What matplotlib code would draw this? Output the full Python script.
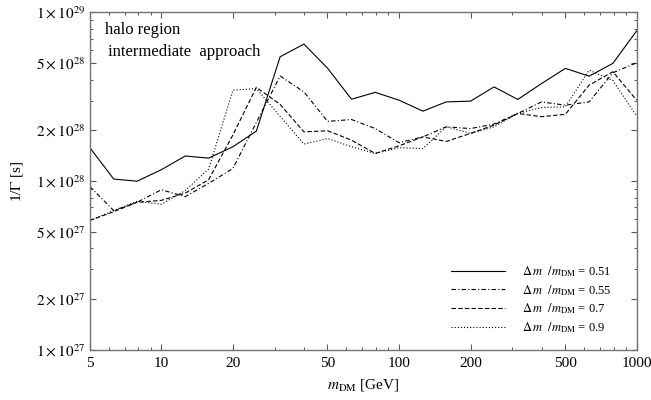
import numpy as np
import matplotlib.pyplot as plt
from matplotlib.ticker import FixedLocator, NullFormatter

plt.rcParams['font.family'] = ['Liberation Serif', 'DejaVu Serif']
plt.rcParams['mathtext.fontset'] = 'stix'

# masses (GeV)
m_dm = [5, 6.3, 7.9, 10, 12.6, 15.8, 20, 25.1, 31.6, 39.8, 50.1, 63.1,
        79.4, 100, 126, 158, 200, 251, 316, 398, 501, 631, 794, 1000]

# 1/Gamma in units of 1e28 s
tau_051 = [1.58, 1.03, 1.0, 1.17, 1.41, 1.37, 1.6, 1.98, 5.46, 6.49, 4.66, 3.06,
           3.36, 3.02, 2.6, 2.95, 2.98, 3.62, 3.05, 3.79, 4.66, 4.19, 4.99, 7.78]
tau_055 = [0.93, 0.67, 0.75, 0.89, 0.81, 0.97, 1.19, 2.23, 4.2, 3.38, 2.26, 2.32,
           2.05, 1.69, 1.83, 2.1, 2.05, 2.18, 2.52, 2.95, 2.82, 2.95, 4.39, 5.03]
tau_07 = [0.585, 0.66, 0.75, 0.77, 0.85, 1.02, 1.88, 3.6, 2.85, 1.96, 1.99, 1.75,
          1.46, 1.62, 1.83, 1.72, 1.92, 2.15, 2.52, 2.41, 2.49, 3.71, 4.45, 3.02]
tau_09 = [0.585, 0.67, 0.76, 0.73, 0.88, 1.18, 3.46, 3.54, 2.42, 1.66, 1.79, 1.6,
          1.46, 1.58, 1.56, 2.1, 1.92, 2.1, 2.52, 2.73, 2.76, 4.55, 3.95, 2.43]

series = [tau_051, tau_055, tau_07, tau_09]
ratios = ['0.51', '0.55', '0.7', '0.9']
styles = ['-', (0, (4, 2, 1, 2)), (0, (4, 2)), (0, (1, 1.8))]

fig = plt.figure(figsize=(6.51, 4.0), dpi=100)
ax = fig.add_axes([0.138, 0.125, 0.840, 0.844])

x = np.array(m_dm)
for tau, r, ls in zip(series, ratios, styles):
    ax.plot(x, np.array(tau) * 1e28, color='black', linewidth=0.8, linestyle=ls,
            label=r'$\Delta\,m\ \ /m_{\rm DM}$ = ' + r)

ax.set_xscale('log')
ax.set_yscale('log')
ax.set_xlim(5, 1000)
ax.set_ylim(1e27, 1e29)

xmaj = [5, 10, 20, 50, 100, 200, 500, 1000]
xmin = [6, 7, 8, 9, 30, 40, 60, 70, 80, 90, 300, 400, 600, 700, 800, 900]
ax.xaxis.set_major_locator(FixedLocator(xmaj))
ax.set_xticklabels([str(v) for v in xmaj])
ax.xaxis.set_minor_locator(FixedLocator(xmin))
ax.xaxis.set_minor_formatter(NullFormatter())

ymaj = [1e27, 2e27, 5e27, 1e28, 2e28, 5e28, 1e29]
ylab = [r'$1\times10^{27}$', r'$2\times10^{27}$', r'$5\times10^{27}$',
        r'$1\times10^{28}$', r'$2\times10^{28}$', r'$5\times10^{28}$',
        r'$1\times10^{29}$']
ymin = [k * 10.0**e for e in (27, 28) for k in (3, 4, 6, 7, 8, 9)]
ax.yaxis.set_major_locator(FixedLocator(ymaj))
ax.set_yticklabels(ylab)
ax.yaxis.set_minor_locator(FixedLocator(ymin))
ax.yaxis.set_minor_formatter(NullFormatter())

ax.tick_params(which='both', direction='in', top=True, right=True,
               color='0.35', labelsize=11)
ax.tick_params(axis='x', pad=5)
ax.tick_params(axis='y', pad=3)
ax.tick_params(which='major', length=4, width=0.8)
ax.tick_params(which='minor', length=2.5, width=0.7)
for s in ax.spines.values():
    s.set_color('0.45')
    s.set_linewidth(1.0)

ax.set_xlabel(r'$m_{\rm DM}$ [GeV]', fontsize=11, labelpad=5)
ax.set_ylabel(r'1/$\Gamma$ [s]', fontsize=11, labelpad=8)

ax.text(0.028, 0.935, 'halo region', transform=ax.transAxes, fontsize=12)
ax.text(0.033, 0.87, 'intermediate  approach', transform=ax.transAxes, fontsize=12)

ax.legend(loc='lower right', bbox_to_anchor=(0.975, 0.012), frameon=False,
          fontsize=9, handlelength=4.3, labelspacing=0.3, handletextpad=1.4)

plt.savefig('out.png', dpi=100)
